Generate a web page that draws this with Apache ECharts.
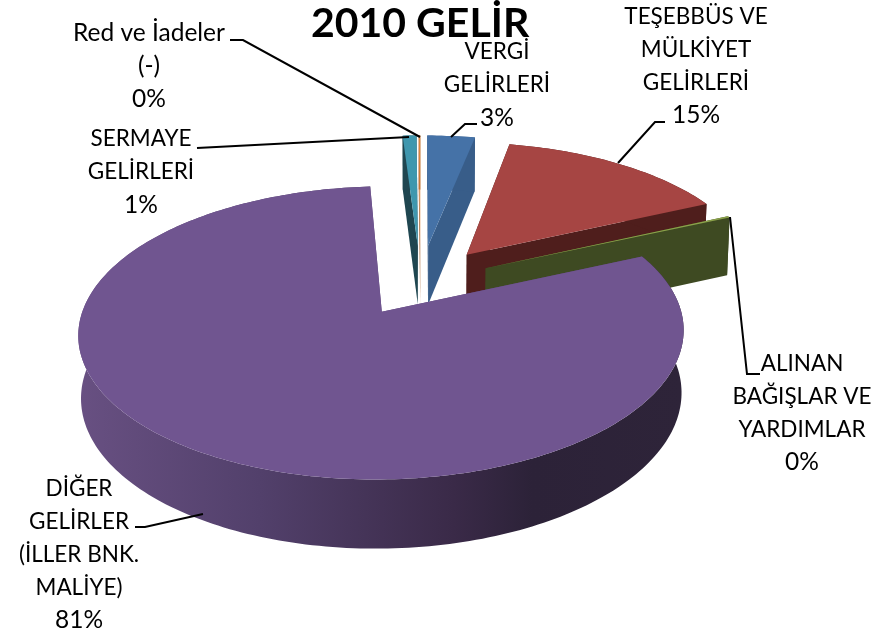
<!DOCTYPE html>
<html>
<head>
<meta charset="utf-8">
<title>2010 GELİR</title>
<style>
  html, body { margin: 0; padding: 0; background: #fff; }
  #chart { width: 896px; height: 636px; }
</style>
<script src="https://cdn.jsdelivr.net/npm/echarts@6/dist/echarts.min.js"></script>
</head>
<body>
<div id="chart"></div>
<script>
// slice data, clockwise from 12 o'clock
const sliceNames = ['VERGİ GELİRLERİ', 'TEŞEBBÜS VE MÜLKİYET GELİRLERİ', 'ALINAN BAĞIŞLAR VE YARDIMLAR', 'DİĞER GELİRLER (İLLER BNK. MALİYE)', 'SERMAYE GELİRLERİ', 'Red ve İadeler (-)'];
const sliceValues = [3.1, 15.0, 0.2, 80.7, 0.9, 0.1];

// how each slice is broken over lines in its label
const labelLines = [
  ['VERGİ', 'GELİRLERİ'],
  ['TEŞEBBÜS VE', 'MÜLKİYET', 'GELİRLERİ'],
  ['ALINAN', 'BAĞIŞLAR VE', 'YARDIMLAR'],
  ['DİĞER', 'GELİRLER', '(İLLER BNK.', 'MALİYE)'],
  ['SERMAYE', 'GELİRLERİ'],
  ['Red ve İadeler', '(-)']
];

// look of the slices
const explode = [0.28, 0.265, 0.25, 0.25, 0.28, 0.28];
const topColors = ['#4572a7', '#a64543', '#8ba24a', '#705590', '#3f97ae', '#dc853f'];
const wallColors = ['#385d89', '#4f1e1c', '#3e4a22', '#5c4678', '#1f4650', '#a86430'];
const drawOrder = [4, 5, 0, 1, 2, 3];

// label centres and leader lines
const labelX = [497, 696, 802, 79, 141, 149];
const labelY = [52, 17, 364, 489, 139, 33];
const lineGap = 32.8;
const leaders = [
  [[477, 124], [465, 124], [451, 137]],
  [[665, 122], [655, 122], [618, 163]],
  [[760, 374], [747, 374], [730, 217]],
  [[135, 527], [145, 527], [203, 514]],
  [[197, 148], [409, 137]],
  [[230, 40], [243, 40], [420, 137]]
];

// projection of the tilted disc onto the page
const originX = 420.5, originY = 282, radiusX = 290.5, radiusY = 135, persp = 0.14, depth = 60.5;

function project(x, y, lower) {
  const w = 1 / (1 - persp * y);
  const shrink = lower ? 0.992 : 1;
  const drop = lower ? depth * (1 + 0.7 * (w - 1)) : 0;
  return [originX + radiusX * x * w * shrink, originY + radiusY * y * w + drop];
}

const total = sliceValues.reduce((a, b) => a + b, 0);
const startAngles = [];
sliceValues.reduce((acc, v, i) => { startAngles[i] = acc; return acc + v / total * Math.PI * 2; }, 0);

function renderSlice(params, api) {
  const i = api.value(0);
  const a0 = startAngles[i];
  const a1 = a0 + sliceValues[i] / total * Math.PI * 2;
  const mid = (a0 + a1) / 2;
  const ex = explode[i] * Math.sin(mid), ey = -explode[i] * Math.cos(mid);

  const steps = Math.max(2, Math.ceil((a1 - a0) / 0.02));
  const rimTop = [], rimLow = [];
  for (let s = 0; s <= steps; s++) {
    const a = a0 + (a1 - a0) * s / steps;
    rimTop.push(project(ex + Math.sin(a), ey - Math.cos(a), false));
    rimLow.push(project(ex + Math.sin(a), ey - Math.cos(a), true));
  }
  const tipTop = project(ex, ey, false);
  const tipLow = project(ex, ey, true);

  const poly = (points, fill) => ({ type: 'polygon', shape: { points }, style: { fill } });
  const rimFill = i === 3
    ? new echarts.graphic.LinearGradient(0, 0, 1, 0, [
        { offset: 0, color: '#685082' },
        { offset: 0.3, color: '#52406b' },
        { offset: 0.62, color: '#3a2a48' },
        { offset: 0.75, color: '#2c2238' },
        { offset: 1, color: '#2e2439' }
      ])
    : wallColors[i];

  return {
    type: 'group',
    children: [
      poly([tipTop, rimTop[0], rimLow[0], tipLow], wallColors[i]),
      poly([tipTop, rimTop[steps], rimLow[steps], tipLow], wallColors[i]),
      poly(rimTop.concat(rimLow.slice().reverse()), rimFill),
      poly([tipTop].concat(rimTop), topColors[i])
    ]
  };
}

// capitals run wide in Lato, other lines get a slightly bigger size to match the width
const fontFor = text => (text === text.toUpperCase() && !/[%-]/.test(text) ? 22.5 : 24.5) + 'px Lato, "Noto Sans", sans-serif';
const graphicElements = [];
leaders.forEach(points => {
  graphicElements.push({
    type: 'polyline', z: 5,
    shape: { points },
    style: { stroke: '#000', lineWidth: 2, fill: null }
  });
});
labelLines.forEach((lines, i) => {
  lines.concat(Math.round(sliceValues[i] / total * 100) + '%').forEach((text, n) => {
    graphicElements.push({
      type: 'text', z: 6,
      x: labelX[i], y: labelY[i] + n * lineGap,
      style: { text, font: fontFor(text), fill: '#000', align: 'center', verticalAlign: 'middle' }
    });
  });
});

const chart = echarts.init(document.getElementById('chart'), null, { renderer: 'canvas' });
chart.setOption({
  animation: false,
  backgroundColor: '#fff',
  title: {
    text: '2010 GELİR',
    left: 311, top: 3, padding: 0,
    textStyle: { fontFamily: 'Lato, "Noto Sans", sans-serif', fontWeight: 'bold', fontSize: 41, color: '#000' }
  },
  series: [{
    type: 'custom',
    coordinateSystem: 'none',
    silent: true,
    renderItem: renderSlice,
    data: drawOrder.map(i => ({ name: sliceNames[i], value: [i, sliceValues[i]] }))
  }],
  graphic: { elements: graphicElements }
});
window.addEventListener('resize', () => chart.resize());
</script>
</body>
</html>
